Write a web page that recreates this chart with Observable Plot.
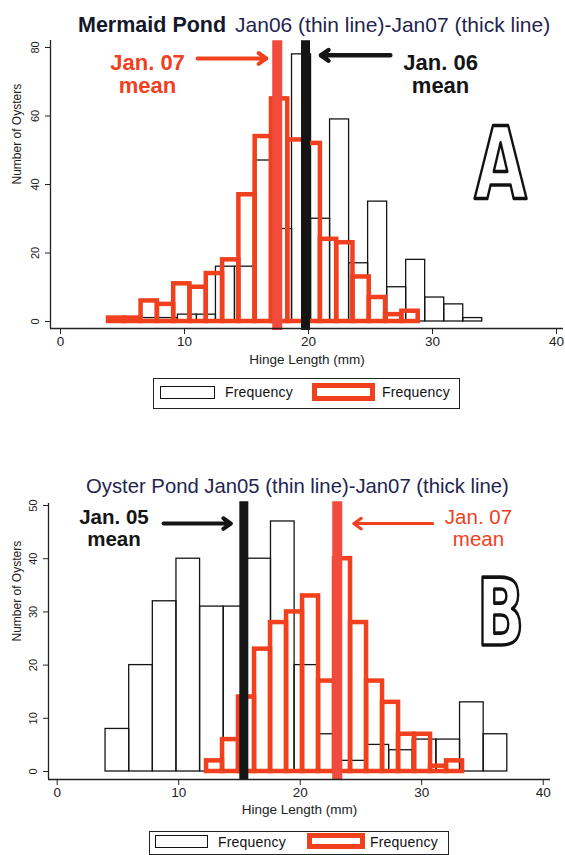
<!DOCTYPE html>
<html><head><meta charset="utf-8">
<script src="https://cdn.jsdelivr.net/npm/d3@7"></script>
<script src="https://cdn.jsdelivr.net/npm/@observablehq/plot@0.6"></script>
<style>
body{margin:0;background:#fff;}
#wrap{position:relative;width:565px;height:855px;overflow:hidden;font-family:"Liberation Sans",Arial,sans-serif;background:#fff;}
.abs{position:absolute;}
.title{color:#1f2550;white-space:nowrap;line-height:24px;}
.legend{position:absolute;border:1.5px solid #222;box-sizing:border-box;background:#fff;}
.key{position:absolute;box-sizing:border-box;background:#fff;}
.ktext{position:absolute;font-size:14px;color:#111;white-space:nowrap;letter-spacing:0.2px;}
</style></head><body><div id="wrap"></div>
<script>
// ---------- Panel A: Mermaid Pond (Jan06 thin, Jan07 thick) ----------
const mermaidJan06BinStart = 6.40;   // mm, lower edge of first bin
const mermaidJan06BinWidth = 1.534;  // mm
const mermaidJan06Counts = [1, 1, 2, 2, 16, 16, 47, 27, 78, 30, 59, 17, 35, 10, 18, 7, 5, 1];
const mermaidJan07BinStart = 3.87;
const mermaidJan07BinWidth = 1.3145;
const mermaidJan07Counts = [1, 1, 6, 5, 11, 10, 14, 18, 37, 54, 65, 53, 52, 24, 23, 13, 7, 2, 3];
const mermaidJan06Mean = 19.76;
const mermaidJan07Mean = 17.48;
const mermaidXTicks = [0, 10, 20, 30, 40];
const mermaidYTicks = [0, 20, 40, 60, 80];

// ---------- Panel B: Oyster Pond (Jan05 thin, Jan07 thick) ----------
const oysterJan05BinStart = 3.98;
const oysterJan05BinWidth = 1.945;
const oysterJan05Counts = [8, 20, 32, 40, 31, 31, 40, 47, 20, 7, 2, 5, 4, 6, 6, 13, 7];
const oysterJan07BinStart = 12.29;
const oysterJan07BinWidth = 1.317;
const oysterJan07Counts = [2, 6, 14, 23, 28, 30, 33, 17, 40, 28, 17, 13, 7, 7, 1, 2];
const oysterJan05Mean = 15.36;
const oysterJan07Mean = 23.05;
const oysterXTicks = [0, 10, 20, 30, 40];
const oysterYTicks = [0, 10, 20, 30, 40, 50];

const xLabel = "Hinge Length (mm)";
const yLabel = "Number of Oysters";
const legendLabels = ["Frequency", "Frequency"];

const RED = "#f0401e";
const RED_MEAN = "#f04b3c";
const BLACK = "#151515";

function bins(start, width, counts) {
  return counts.map((c, i) => ({x1: start + i * width, x2: start + (i + 1) * width, y: c}));
}

const wrap = document.getElementById("wrap");

function panel(cfg) {
  const thin = bins(cfg.thinStart, cfg.thinWidth, cfg.thinCounts);
  const thick = bins(cfg.thickStart, cfg.thickWidth, cfg.thickCounts);
  const noteOpts = w => ({x: "x", y: "y", text: "t", fill: "c", fontSize: "fs", fontWeight: w, lineHeight: 1.05});
  const p = Plot.plot({
    width: 565,
    height: cfg.height,
    marginLeft: cfg.mL, marginRight: cfg.mR, marginTop: cfg.mT, marginBottom: cfg.mB,
    x: {domain: cfg.xDomain},
    y: {domain: cfg.yDomain},
    style: {fontFamily: "Liberation Sans, Arial, sans-serif", color: "#222", background: "transparent", overflow: "visible"},
    marks: [
      Plot.rectY(thin, {x1: "x1", x2: "x2", y: "y", fill: "none", stroke: BLACK, strokeWidth: 1.3}),
      Plot.rectY(thick, {x1: "x1", x2: "x2", y: "y", fill: "none", stroke: RED, strokeWidth: 4.5}),
      Plot.ruleX([cfg.thinMean], {y1: cfg.ruleY1, y2: cfg.ruleY2, stroke: BLACK, strokeWidth: 9}),
      Plot.ruleX([cfg.thickMean], {y1: cfg.ruleY1, y2: cfg.ruleY2, stroke: RED_MEAN, strokeWidth: 10}),
      Plot.ruleX([cfg.xDomain[0]], {stroke: "#222", strokeWidth: 1.3}),
      Plot.ruleY([cfg.yDomain[0]], {stroke: "#222", strokeWidth: 1.3}),
      Plot.axisX({ticks: cfg.xTicks, tickSize: 6, tickPadding: 2, fontSize: 13.5, label: null}),
      Plot.axisY({ticks: cfg.yTicks, tickSize: 5, tickPadding: 7, tickRotate: -90, fontSize: 11, label: null}),
      Plot.text([xLabel], {frameAnchor: "bottom", dy: cfg.xLabelDy, fontSize: 13.5, fill: "#222"}),
      Plot.text([yLabel], {frameAnchor: "left", rotate: -90, dx: cfg.yLabelDx, fontSize: 12, fill: "#222"}),
      Plot.arrow(cfg.arrows, {x1: "x1", y1: "y1", x2: "x2", y2: "y2", stroke: "c", strokeWidth: "w", headLength: 14, headAngle: 70}),
      Plot.text(cfg.notes.filter(d => d.fw === "bold"), noteOpts("bold")),
      Plot.text(cfg.notes.filter(d => d.fw !== "bold"), noteOpts("normal")),
      Plot.text([cfg.letter], {x: cfg.letterX, y: cfg.letterY, text: d => d, fontSize: cfg.letterSize, fontWeight: "bold",
        fontFamily: "DejaVu Sans, sans-serif", fill: "white", stroke: "#111", strokeWidth: 3.5, paintOrder: "normal"})
    ]
  });
  p.style.position = "absolute";
  p.style.left = "0px";
  p.style.top = cfg.top + "px";
  // narrow the big panel letter (condensed poster style)
  p.querySelectorAll("text").forEach(t => {
    if (t.textContent !== cfg.letter) return;
    const tr = t.getAttribute("transform") || "";
    const x = +t.getAttribute("x") || 0, y = +t.getAttribute("y") || 0;
    const m = /translate\(([-\d.]+)[ ,]+([-\d.]+)\)/.exec(tr);
    const cx = m ? +m[1] + x : x, cy = m ? +m[2] + y : y;
    t.setAttribute("transform", `translate(${cx},${cy}) scale(0.68,1) translate(${-cx},${-cy}) ${tr}`);
  });
  wrap.appendChild(p);
}

// Panel A
panel({
  top: 0, height: 372, mL: 50, mR: 2, mT: 40, mB: 44,
  xDomain: [-0.806, 40.565], yDomain: [-2.044, 82.04],
  thinStart: mermaidJan06BinStart, thinWidth: mermaidJan06BinWidth, thinCounts: mermaidJan06Counts,
  thickStart: mermaidJan07BinStart, thickWidth: mermaidJan07BinWidth, thickCounts: mermaidJan07Counts,
  thinMean: mermaidJan06Mean, thickMean: mermaidJan07Mean, ruleY1: -2.6, ruleY2: 82,
  xTicks: mermaidXTicks, yTicks: mermaidYTicks, xLabelDy: 35, yLabelDx: -33,
  arrows: [
    {x1: 11.05, y1: 76.8, x2: 16.6, y2: 76.8, c: RED, w: 4},
    {x1: 26.6, y1: 77.7, x2: 21.0, y2: 77.7, c: BLACK, w: 4.5}
  ],
  notes: [
    {x: 7.02, y: 72.1, t: "Jan. 07\nmean", c: RED, fw: "bold", fs: 22},
    {x: 30.65, y: 72.1, t: "Jan. 06\nmean", c: BLACK, fw: "bold", fs: 22}
  ],
  letter: "A", letterX: 35.48, letterY: 45.3, letterSize: 100
});

// Panel B
panel({
  top: 470, height: 352, mL: 48, mR: 15, mT: 33, mB: 43,
  xDomain: [-0.716, 40.6], yDomain: [-1.504, 50.38],
  thinStart: oysterJan05BinStart, thinWidth: oysterJan05BinWidth, thinCounts: oysterJan05Counts,
  thickStart: oysterJan07BinStart, thickWidth: oysterJan07BinWidth, thickCounts: oysterJan07Counts,
  thinMean: oysterJan05Mean, thickMean: oysterJan07Mean, ruleY1: -1.6, ruleY2: 50.7,
  xTicks: oysterXTicks, yTicks: oysterYTicks, xLabelDy: 34, yLabelDx: -31,
  arrows: [
    {x1: 8.75, y1: 46.6, x2: 14.3, y2: 46.6, c: BLACK, w: 4},
    {x1: 30.9, y1: 46.6, x2: 24.4, y2: 46.6, c: RED, w: 3}
  ],
  notes: [
    {x: 4.67, y: 45.8, t: "Jan. 05\nmean", c: BLACK, fw: "bold", fs: 20.5},
    {x: 34.67, y: 45.8, t: "Jan. 07\nmean", c: RED, fw: "normal", fs: 20.5}
  ],
  letter: "B", letterX: 36.49, letterY: 29.3, letterSize: 92
});

// Titles
function addTitle(html, left, top) {
  const d = document.createElement("div");
  d.className = "abs title";
  d.style.left = left + "px"; d.style.top = top + "px";
  d.innerHTML = html;
  wrap.appendChild(d);
}
addTitle('<span style="font-weight:bold;font-size:21.5px;color:#15182b">Mermaid Pond</span>&nbsp; <span style="font-size:21px">Jan06 (thin line)-Jan07 (thick line)</span>', 78, 13);
addTitle('<span style="font-size:20.3px">Oyster Pond Jan05 (thin line)-Jan07 (thick line)</span>', 86, 474);

// Legends
function addLegend(box, keys) {
  const b = document.createElement("div");
  b.className = "legend";
  Object.assign(b.style, {left: box[0] + "px", top: box[1] + "px", width: box[2] + "px", height: box[3] + "px"});
  wrap.appendChild(b);
  keys.forEach(k => {
    const r = document.createElement("div");
    r.className = "key";
    Object.assign(r.style, {left: k.r[0] + "px", top: k.r[1] + "px", width: k.r[2] + "px", height: k.r[3] + "px", border: k.border});
    wrap.appendChild(r);
    const t = document.createElement("div");
    t.className = "ktext";
    Object.assign(t.style, {left: k.t[0] + "px", top: k.t[1] + "px"});
    t.textContent = k.label;
    wrap.appendChild(t);
  });
}
addLegend([153, 378, 307, 31], [
  {r: [160, 386, 55, 13], border: "1.3px solid #111", t: [225, 384], label: legendLabels[0]},
  {r: [312, 383, 63, 18], border: "5px solid " + RED, t: [382, 384], label: legendLabels[1]}
]);
addLegend([149, 831, 300, 24], [
  {r: [155, 835, 53, 13], border: "1.3px solid #111", t: [218, 834], label: legendLabels[0]},
  {r: [307, 833, 58, 16], border: "5px solid " + RED, t: [370, 834], label: legendLabels[1]}
]);
</script></body></html>
